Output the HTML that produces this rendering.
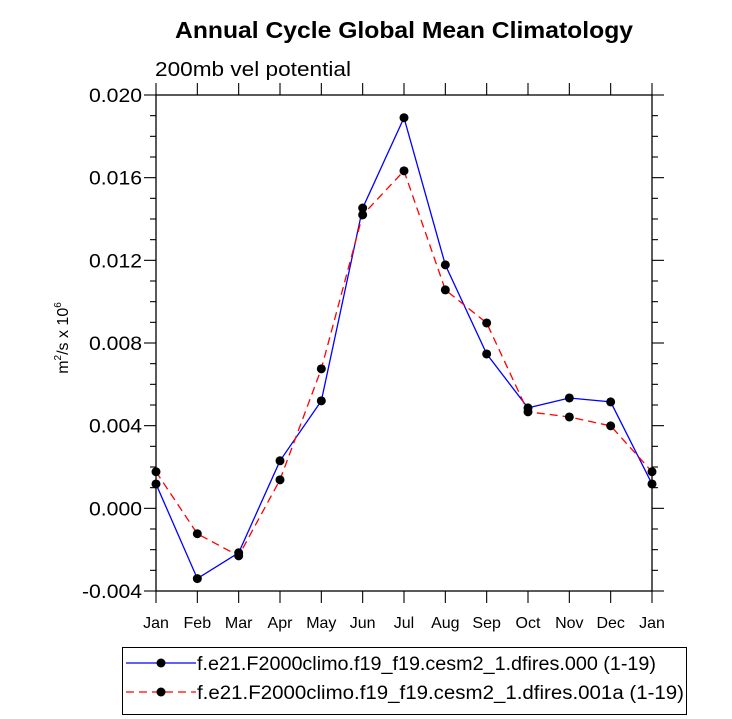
<!DOCTYPE html>
<html><head><meta charset="utf-8"><style>
body{margin:0;background:#fff;}
svg{display:block;font-family:"Liberation Sans",Arial,sans-serif;}
</style></head><body>
<svg id="chart" width="732" height="719" viewBox="0 0 732 719">
<text x="175" y="38" textLength="458" lengthAdjust="spacingAndGlyphs" font-size="23" font-weight="bold">Annual Cycle Global Mean Climatology</text>
<text x="155" y="76" textLength="196" lengthAdjust="spacingAndGlyphs" font-size="20">200mb vel potential</text>
<text transform="translate(68,338) rotate(-90)" text-anchor="middle" font-size="16">m<tspan font-size="10" dy="-7">2</tspan><tspan dy="7">/s x 10</tspan><tspan font-size="10" dy="-7">6</tspan></text>
<g id="axes"></g>
<g id="series"></g>
<g id="legend">
<rect x="122.5" y="647.5" width="564" height="67" fill="#fff" stroke="#000" stroke-width="1"/>
<g>
<line x1="126" y1="663" x2="196" y2="663" stroke="#0000ff" stroke-width="1.3"/>
<circle cx="161" cy="663" r="4.5" fill="#000"/>
<text x="197" y="670" font-size="19" textLength="459" lengthAdjust="spacingAndGlyphs">f.e21.F2000climo.f19_f19.cesm2_1.dfires.000 (1-19)</text>
</g>
<g>
<line x1="126" y1="692" x2="196" y2="692" stroke="#ff0000" stroke-width="1.3" stroke-dasharray="8,5"/>
<circle cx="161" cy="692" r="4.5" fill="#000"/>
<text x="197" y="699" font-size="19" textLength="487" lengthAdjust="spacingAndGlyphs">f.e21.F2000climo.f19_f19.cesm2_1.dfires.001a (1-19)</text>
</g>
</g>
</svg>
<script>
const months = ["Jan","Feb","Mar","Apr","May","Jun","Jul","Aug","Sep","Oct","Nov","Dec","Jan"];
const series000 = [0.00118,-0.0034,-0.00215,0.0023,0.0052,0.01453,0.0189,0.01178,0.00747,0.00486,0.00534,0.00515,0.00118];
const series001a = [0.00177,-0.00123,-0.0023,0.00138,0.00675,0.0142,0.01633,0.01057,0.00897,0.00467,0.00442,0.00399,0.00177];
const yTicks = [-0.004,0.000,0.004,0.008,0.012,0.016,0.020];
const yTickLabels = ["-0.004","0.000","0.004","0.008","0.012","0.016","0.020"];

const L=156,R=652,T=95,B=591,yMin=-0.004,yMax=0.020;
const xs=i=>L+(R-L)*i/(months.length-1);
const ys=v=>B-(v-yMin)/(yMax-yMin)*(B-T);
const NS="http://www.w3.org/2000/svg";
function mk(tag,attrs,parent){const e=document.createElementNS(NS,tag);for(const k in attrs)e.setAttribute(k,attrs[k]);parent.appendChild(e);return e;}
const axes=document.getElementById('axes');
const frame=mk('rect',{x:L,y:T,width:R-L,height:B-T,fill:'none',stroke:'#000','stroke-width':1.3},axes);


for(let v=yMin;v<=yMax+1e-9;v+=0.001){
  const y=ys(v);const major=Math.abs(Math.round(v*1000)%4)===0;const len=major?12:6;
  const t1=mk('line',{x1:L-len,y1:y,x2:L,y2:y,stroke:'#000','stroke-width':1.1},axes);
  
  
  const t2=mk('line',{x1:R,y1:y,x2:R+len,y2:y,stroke:'#000','stroke-width':1.1},axes);
  
  
}
yTicks.forEach((v,i)=>{
  const lbl=yTickLabels[i];
  const w=lbl.length===6?60:53;
  const t=mk('text',{x:142-w,y:ys(v)+7,'font-size':19,textLength:w,lengthAdjust:'spacingAndGlyphs'},axes);
  t.textContent=lbl;
  
  
});
months.forEach((m,i)=>{
  const x=xs(i);
  const a=mk('line',{x1:x,y1:B,x2:x,y2:B+12,stroke:'#000','stroke-width':1.1},axes);
  
  
  const b=mk('line',{x1:x,y1:T-12,x2:x,y2:T,stroke:'#000','stroke-width':1.1},axes);
  
  
  const t=mk('text',{x:x,y:628,'text-anchor':'middle','font-size':16},axes);
  t.textContent=m;
  
  
});
const sg=document.getElementById('series');
function draw(vals,color,dash,name){
  const g=mk('g',{},sg);
  
  
  const pts=vals.map((v,i)=>xs(i)+','+ys(v)).join(' ');
  const attrs={points:pts,fill:'none',stroke:color,'stroke-width':1.3};
  if(dash)attrs['stroke-dasharray']=dash;
  const pl=mk('polyline',attrs,g);
  
  
  vals.forEach((v,i)=>{
    const c=mk('circle',{cx:xs(i),cy:ys(v),r:4.5,fill:'#000'},g);
    
    
  });
}
draw(series000,'#0000ff',null,'series-000');
draw(series001a,'#ff0000','8,5','series-001a');
</script>
</body></html>
